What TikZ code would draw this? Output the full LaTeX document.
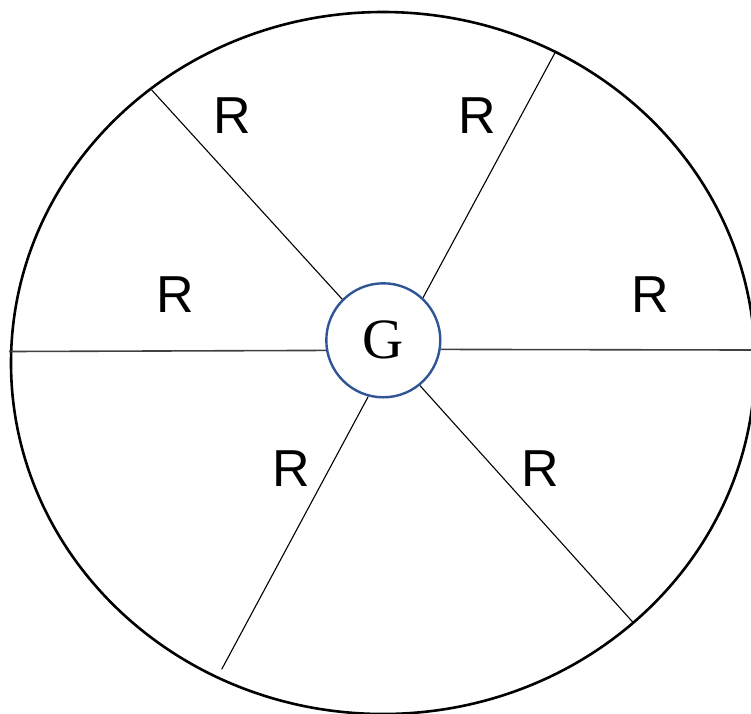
\documentclass[tikz,border=0pt]{standalone}
\usepackage{fontspec}
\setmainfont{Liberation Serif}
\newfontfamily\rfont{Liberation Sans}
\definecolor{gblue}{HTML}{2F5597}
\definecolor{hgray}{HTML}{404040}
\begin{document}
\begin{tikzpicture}[x=1pt,y=-1pt,
  outer/.style={line width=2.6pt, black},
  spoke/.style={line width=1.1pt, black},
  hspoke/.style={line width=1.6pt, hgray},
  hub/.style={circle, draw=gblue, line width=2.4pt, minimum size=114pt, inner sep=0pt,
    font=\fontsize{57}{57}\selectfont},
  rlab/.style={font=\rfont\fontsize{52}{52}\selectfont, inner sep=0pt}]
\useasboundingbox (0,0) rectangle (751,713);
\clip (0,0) rectangle (751,713);
\fill[white] (0,0) rectangle (751,713);
\draw[outer] (383,363) ellipse [x radius=372, y radius=351];
\node[hub] (g) at (383.3,340.3) {\raisebox{-2pt}{G}};
\coordinate (pul) at (151.7,90);
\coordinate (pur) at (555,52.7);
\coordinate (pl) at (9,351.5);
\coordinate (pr) at (751,350);
\coordinate (pll) at (221.7,669.3);
\coordinate (plr) at (633.3,622.7);
\draw[spoke] (g.135.4) -- (pul);
\draw[spoke] (g.47.9) -- (pur);
\draw[hspoke] (g.190) -- (pl);
\draw[hspoke] (g.-9.8) -- (pr);
\draw[spoke] (g.255) -- (pll);
\draw[spoke] (g.309) -- (plr);
\node[rlab] (r1) at (232,116) {R};
\node[rlab] (r2) at (477,116) {R};
\node[rlab] (r3) at (175,295) {R};
\node[rlab] (r4) at (650,295) {R};
\node[rlab] (r5) at (291,469) {R};
\node[rlab] (r6) at (540,469) {R};
\end{tikzpicture}
\end{document}
